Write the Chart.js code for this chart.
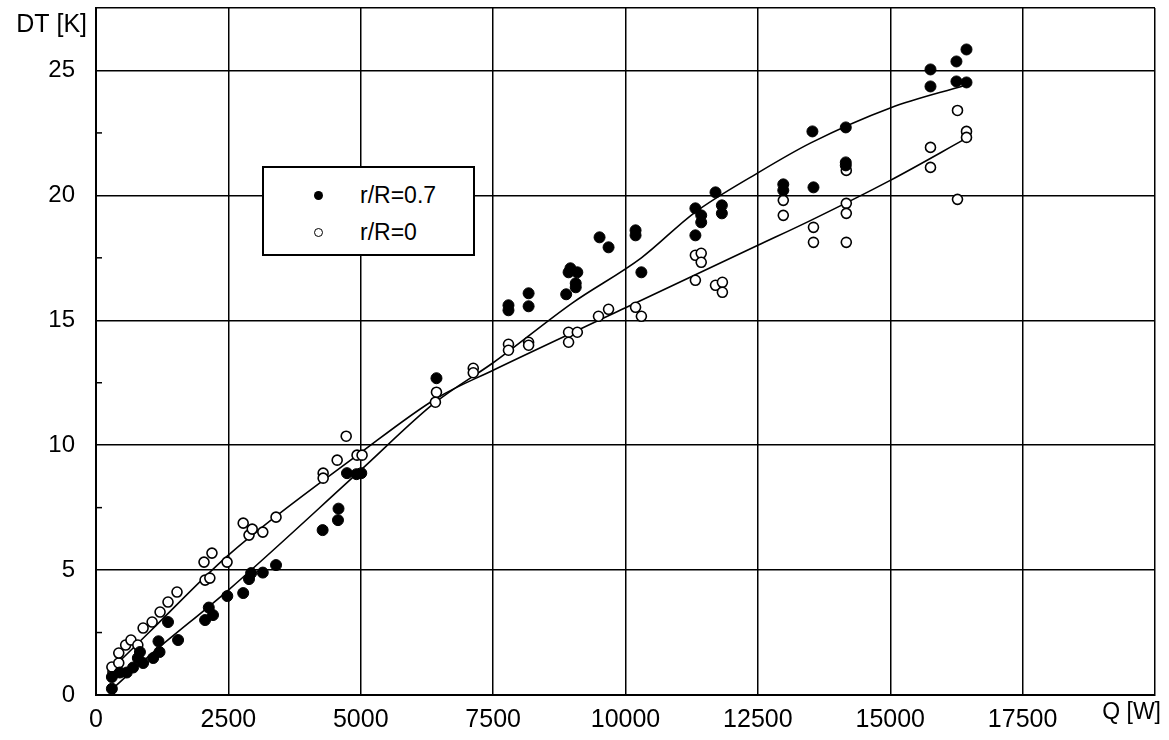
<!DOCTYPE html>
<html>
<head>
<meta charset="utf-8">
<script src="https://cdn.jsdelivr.net/npm/chart.js@4.4.0/dist/chart.umd.min.js"></script>
<style>
body { margin: 0; background: #fff; }
#wrap { position: relative; width: 1169px; height: 740px; }
#legend {
    position: absolute; left: 262px; top: 166px; width: 213px; height: 90px;
    box-sizing: border-box; border: 2px solid #000; background: #fff;
    font-family: 'Liberation Sans', Arial, sans-serif; font-size: 23px; color: #000;
}
#legend .txt { position: absolute; left: 96px; height: 30px; line-height: 30px; }
#legend .mk { position: absolute; border-radius: 50%; box-sizing: border-box; }
</style>
</head>
<body>
<div id="wrap">
    <canvas id="myChart" width="1169" height="740"></canvas>
    <div id="legend">
        <span class="mk" style="left:50px; top:23px; width:9px; height:9px; background:#000;"></span>
        <span class="txt" style="top:12px;">r/R=0.7</span>
        <span class="mk" style="left:50px; top:60px; width:9px; height:9px; border:1.5px solid #000; background:#fff;"></span>
        <span class="txt" style="top:49px;">r/R=0</span>
    </div>
</div>
<script>
// measured points, r/R=0.7 (filled)
var q07 = [300, 300, 450, 580, 700, 790, 830, 890, 1080, 1200, 1180, 1360, 1550,
    2060, 2130, 2210, 2480, 2780, 2890, 2930, 3150, 3400,
    4280, 4570, 4580, 4740, 4920, 5010, 6430,
    7790, 7790, 8170, 8170, 8880, 8925, 8960, 9090, 9060, 9060, 9510, 9680,
    10190, 10190, 10300, 11320, 11320, 11430, 11430, 11700, 11820, 11820,
    12980, 12980, 13550, 13530, 14160, 14160, 14160,
    15760, 15760, 16250, 16250, 16440, 16440];
var dt07 = [0.25, 0.72, 0.9, 0.9, 1.1, 1.48, 1.72, 1.28, 1.48, 1.72, 2.15, 2.92, 2.2,
    3.0, 3.5, 3.2, 3.96, 4.08, 4.64, 4.88, 4.9, 5.2,
    6.6, 7.0, 7.46, 8.88, 8.84, 8.88, 12.68,
    15.6, 15.4, 16.08, 15.56, 16.04, 16.92, 17.08, 16.92, 16.48, 16.32, 18.32, 17.92,
    18.6, 18.4, 16.92, 19.48, 18.4, 19.2, 18.92, 20.12, 19.6, 19.28,
    20.44, 20.2, 20.32, 22.56, 22.72, 21.32, 21.2,
    25.04, 24.36, 25.36, 24.56, 25.84, 24.52];

// measured points, r/R=0 (open)
var q0 = [320, 300, 430, 430, 560, 660, 790, 890, 1060, 1210, 1360, 1530,
    2060, 2150, 2040, 2190, 2475, 2780, 2890, 2950, 3150, 3400,
    4290, 4290, 4555, 4725, 4930, 5025, 6430, 6410, 7125, 7125,
    7790, 7790, 8170, 8170, 8925, 8925, 9090, 9490, 9680, 10190, 10300,
    11320, 11320, 11430, 11430, 11700, 11830, 11830,
    12980, 12980, 13550, 13550, 14170, 14170, 14170, 14170,
    15760, 15760, 16270, 16270, 16440, 16440];
var dt0 = [0.92, 1.12, 1.28, 1.68, 2.0, 2.2, 2.0, 2.68, 2.92, 3.32, 3.72, 4.12,
    4.6, 4.68, 5.32, 5.68, 5.32, 6.88, 6.4, 6.64, 6.52, 7.12,
    8.88, 8.68, 9.4, 10.36, 9.6, 9.6, 12.12, 11.72, 13.08, 12.9,
    14.04, 13.8, 14.12, 14.0, 14.52, 14.12, 14.52, 15.16, 15.44, 15.52, 15.16,
    16.6, 17.6, 17.68, 17.32, 16.4, 16.52, 16.12,
    19.8, 19.2, 18.72, 18.12, 19.68, 19.28, 18.12, 21.0,
    21.92, 21.12, 23.4, 19.84, 22.56, 22.32];

// fitted curves
var fitQ07 = [340, 1000, 2500, 5000, 6400, 7500, 9000, 10300, 11300, 12500, 13500, 15000, 16400];
var fitDT07 = [0.3, 1.56, 4.2, 9.0, 11.7, 13.3, 15.7, 17.5, 19.3, 20.9, 22.1, 23.5, 24.4];
var fitQ0 = [300, 1000, 2500, 5000, 6450, 7500, 10000, 12500, 13500, 15000, 16450];
var fitDT0 = [1.05, 2.5, 5.6, 9.7, 11.9, 13.0, 15.5, 18.0, 19.0, 20.6, 22.3];

function pts(xs, ys) {
    return xs.map(function (x, i) { return { x: x, y: ys[i] }; });
}

var FONT = "'Liberation Sans', Arial, sans-serif";

// axis names, small inner ticks on the y axis
var axisExtras = {
    id: 'axisExtras',
    afterDraw: function (chart) {
        var c = chart.ctx, ys = chart.scales.y, area = chart.chartArea;
        c.save();
        c.strokeStyle = '#000';
        c.lineWidth = 1.5;
        for (var v = 2.5; v < 27.5; v += 5) {
            var py = ys.getPixelForValue(v);
            c.beginPath();
            c.moveTo(area.left, py);
            c.lineTo(area.left + 6, py);
            c.stroke();
        }
        c.fillStyle = '#000';
        c.textBaseline = 'middle';
        c.textAlign = 'right';
        c.font = '25px ' + FONT;
        c.fillText('DT [K]', 87, 25);
        c.font = '23px ' + FONT;
        c.fillText('Q [W]', 1161, 713);
        c.restore();
    }
};

var ctx = document.getElementById('myChart').getContext('2d');

var myChart = new Chart(ctx, {
    type: 'scatter',
    data: {
        datasets: [{
            label: 'r/R=0.7',
            data: pts(q07, dt07),
            backgroundColor: '#000',
            borderColor: '#000',
            pointRadius: 5.5
        }, {
            label: 'r/R=0',
            data: pts(q0, dt0),
            backgroundColor: '#fff',
            borderColor: '#000',
            borderWidth: 1.6,
            pointRadius: 5
        }, {
            label: 'fit 0.7',
            data: pts(fitQ07, fitDT07),
            showLine: true,
            borderColor: '#000',
            borderWidth: 1.6,
            pointRadius: 0,
            cubicInterpolationMode: 'monotone'
        }, {
            label: 'fit 0',
            data: pts(fitQ0, fitDT0),
            showLine: true,
            borderColor: '#000',
            borderWidth: 1.6,
            pointRadius: 0,
            cubicInterpolationMode: 'monotone'
        }]
    },
    options: {
        responsive: false,
        animation: false,
        layout: { padding: { top: 8, right: 14, left: 0, bottom: 0 } },
        plugins: {
            legend: { display: false },
            tooltip: { enabled: false }
        },
        scales: {
            x: {
                type: 'linear',
                min: 0,
                max: 20000,
                afterFit: function (s) {
                    s.height = 45;
                    s.paddingLeft = 0;
                    s.paddingRight = 0;
                },
                ticks: {
                    stepSize: 2500,
                    autoSkip: false,
                    maxRotation: 0,
                    padding: 10,
                    color: '#000',
                    font: { family: FONT, size: 25 },
                    callback: function (v) { return v >= 20000 ? '' : String(v); }
                },
                grid: { color: '#000', lineWidth: 1.5, drawTicks: false },
                border: { color: '#000', width: 2 }
            },
            y: {
                min: 0,
                max: 27.5,
                afterFit: function (s) {
                    s.width = 96;
                    s.paddingTop = 0;
                    s.paddingBottom = 0;
                },
                ticks: {
                    stepSize: 2.5,
                    autoSkip: false,
                    padding: 21,
                    color: '#000',
                    font: { family: FONT, size: 24 },
                    callback: function (v) { return (v % 5 === 0 && v < 27.5) ? String(v) : ''; }
                },
                grid: {
                    drawTicks: false,
                    lineWidth: 1.5,
                    color: function (c) {
                        var v = c.tick ? c.tick.value : 0;
                        return (v % 5 === 0 || v === 27.5) ? '#000' : 'rgba(0,0,0,0)';
                    }
                },
                border: { color: '#000', width: 2 }
            }
        }
    },
    plugins: [axisExtras]
});
</script>
</body>
</html>
